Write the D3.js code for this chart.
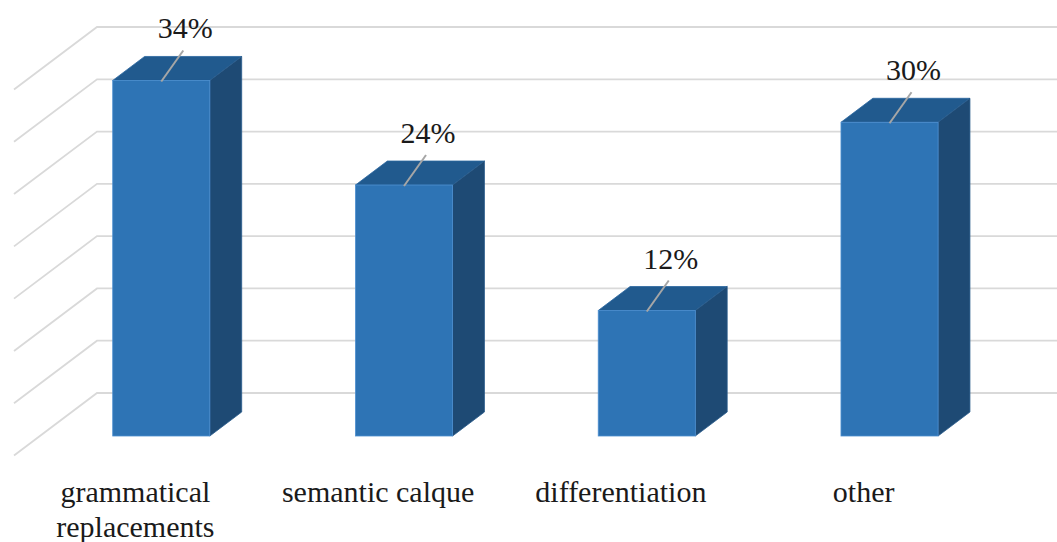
<!DOCTYPE html>
<html>
<head>
<meta charset="utf-8">
<script src="https://cdn.jsdelivr.net/npm/d3@7"></script>
<style>
  body{margin:0;background:#fff;font-family:'Liberation Serif','Times New Roman',serif;}
  svg{display:block;}
  svg text{font-family:'Liberation Serif','Times New Roman',serif;}
</style>
</head>
<body>
<svg id="svg" width="1057" height="542"></svg>
<script>
var categories = ["grammatical replacements", "semantic calque", "differentiation", "other"];
var values = [34, 24, 12, 30];
var labels = ["34%", "24%", "12%", "30%"];
var ticks = [0, 5, 10, 15, 20, 25, 30, 35];

var svg = d3.select('#svg');

// back wall coordinates + depth (z measured from the back wall towards viewer)
var floorDepth = 62.5;
var k = 83 / 62.5;          // horizontal shift per unit of depth
var barFront = 43, barBack = 19;

function proj(x, y, z) {
    return [x - z * k, y + z];
}

var yScale = d3.scaleLinear().domain([0, 35]).range([393, 27]);
var xScale = d3.scaleBand()
    .domain(categories)
    .range([97, 1068])
    .paddingInner(0.6)
    .paddingOuter(0.3);

var step = xScale.step();
var line = d3.line();

function draw() {
    // gridlines: back wall + left side wall
    svg.append('g').selectAll('path').data(ticks).enter()
        .append('path')
        .attr('d', function(d) {
            var y = yScale(d);
            return line([proj(97, y, floorDepth), [97, y], [1057, y]]);
        })
        .attr('fill', 'none')
        .attr('stroke', '#d9d9d9')
        .attr('stroke-width', 1.8);

    var bars = svg.append('g');
    categories.forEach(function(c, i) {
        var x0 = xScale(c), x1 = x0 + xScale.bandwidth();
        var yt = yScale(values[i]), yb = yScale(0);

        // top
        bars.append('path')
            .attr('d', line([proj(x0, yt, barFront), proj(x1, yt, barFront), proj(x1, yt, barBack), proj(x0, yt, barBack)]) + 'Z')
            .attr('fill', '#215a8e')
            .attr('stroke', '#2a66a0').attr('stroke-width', 0.8);
        // right side
        bars.append('path')
            .attr('d', line([proj(x1, yt, barFront), proj(x1, yt, barBack), proj(x1, yb, barBack), proj(x1, yb, barFront)]) + 'Z')
            .attr('fill', '#1e4a74')
            .attr('stroke', '#2a5c8c').attr('stroke-width', 0.8);
        // front
        var f0 = proj(x0, yt, barFront), f1 = proj(x1, yb, barFront);
        bars.append('rect')
            .attr('x', f0[0]).attr('y', f0[1])
            .attr('width', f1[0] - f0[0]).attr('height', f1[1] - f0[1])
            .attr('fill', '#2e74b5')
            .attr('stroke', '#4d8fd0').attr('stroke-width', 0.8);

        // data label + leader line
        var cx = (f0[0] + f1[0]) / 2;
        var lx = cx + 24, ly = f0[1] - 42;
        svg.append('line')
            .attr('x1', cx).attr('y1', f0[1] + 1)
            .attr('x2', cx + 22).attr('y2', ly + 12)
            .attr('stroke', '#a6a6a6').attr('stroke-width', 2);
        svg.append('text')
            .attr('x', lx).attr('y', ly)
            .attr('text-anchor', 'middle')
            .attr('font-size', 30)
            .attr('fill', '#1a1a1a')
            .text(labels[i]);
    });

    // category labels at the front edge of the floor
    var catG = svg.append('g')
        .attr('font-size', 30)
        .attr('fill', '#1a1a1a')
        .attr('text-anchor', 'middle');

    categories.forEach(function(c) {
        var p = proj(xScale(c) + xScale.bandwidth() / 2, yScale(0), floorDepth);
        var t = catG.append('text').attr('x', p[0]).attr('y', p[1] + 46);
        var words = c.split(' '), cur = [];
        var ts = t.append('tspan').attr('x', p[0]).attr('dy', 0);
        words.forEach(function(w) {
            cur.push(w);
            ts.text(cur.join(' '));
            if (ts.node().getComputedTextLength() > step - 4 && cur.length > 1) {
                cur.pop();
                ts.text(cur.join(' '));
                cur = [w];
                ts = t.append('tspan').attr('x', p[0]).attr('dy', 35).text(w);
            }
        });
    });
}

if (document.fonts && document.fonts.load) {
    document.fonts.load('30px "Liberation Serif"').then(draw, draw);
} else {
    draw();
}
</script>
</body>
</html>
